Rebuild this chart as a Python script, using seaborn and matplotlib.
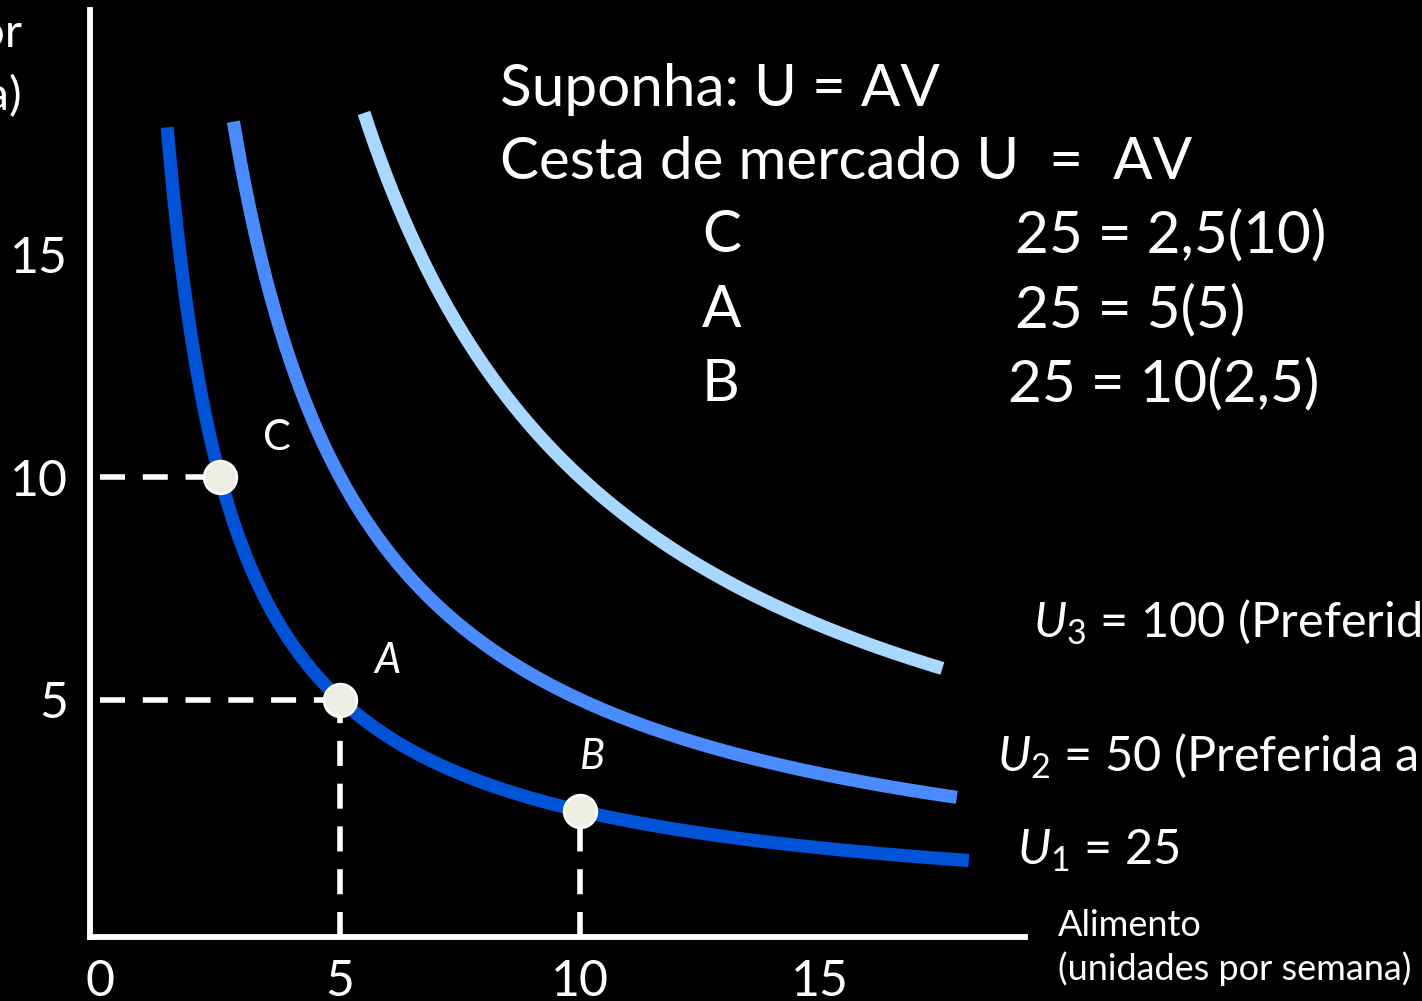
import numpy as np
import pandas as pd
import matplotlib
matplotlib.use("Agg")
import matplotlib.pyplot as plt
import seaborn as sns

# Indifference levels for U = A * V
levels = [25, 50, 100]
level_names = ["U1", "U2", "U3"]
curve_x_start = [1.40, 2.78, 5.50]
curve_x_end = [18.10, 17.85, 17.55]
curve_colors = ["#0052D6", "#4A8CFF", "#A8D8FF"]

# Market baskets lying on U1
basket_names = ["C", "A", "B"]
basket_food = [2.5, 5, 10]
basket_clothing = [10, 5, 2.5]

x_ticks = [0, 5, 10, 15]
y_ticks = [5, 10, 15]

# ---------------------------------------------------------------
W, H = 1422, 1001
sns.set_theme(style="white")
plt.rcParams["font.family"] = ["Lato", "DejaVu Sans"]
plt.rcParams["mathtext.fontset"] = "custom"
plt.rcParams["mathtext.rm"] = "Lato"
plt.rcParams["mathtext.it"] = "Lato:italic"

fig = plt.figure(figsize=(W / 100, H / 100), dpi=100, facecolor="black")

# pixel geometry of the data frame (origin and scale)
ox, oy, sx, sy = 100.0, 922.0, 48.0, 44.5
left_px, right_px, bottom_px, top_px = 90, 1025, 937, 10
ax = fig.add_axes([left_px / W, 1 - bottom_px / H,
                   (right_px - left_px) / W, (bottom_px - top_px) / H])
ax.set_facecolor("black")
ax.set_xlim((left_px - ox) / sx, (right_px - ox) / sx)
ax.set_ylim((oy - bottom_px) / sy, (oy - top_px) / sy)

for side in ["top", "right"]:
    ax.spines[side].set_visible(False)
for side in ["left", "bottom"]:
    ax.spines[side].set_color("white")
    ax.spines[side].set_linewidth(4.2)

# curves
frames = []
for name, u, x0, x1 in zip(level_names, levels, curve_x_start, curve_x_end):
    xs = np.linspace(x0, x1, 400)
    frames.append(pd.DataFrame({"alimento": xs, "vestuario": u / xs, "curva": name}))
curves = pd.concat(frames, ignore_index=True)

# dashed guides from the baskets to the axes
y_floor = ax.get_ylim()[0]
guide = dict(color="white", lw=4.0, linestyle=(0, (4.5, 3.2)), zorder=2)
ax.hlines([basket_clothing[0], basket_clothing[1]], 0, [basket_food[0], basket_food[1]], **guide)
ax.vlines([basket_food[1], basket_food[2]], y_floor, [basket_clothing[1], basket_clothing[2]], **guide)

sns.lineplot(data=curves, x="alimento", y="vestuario", hue="curva",
             palette=dict(zip(level_names, curve_colors)), linewidth=9.5,
             legend=False, sort=False, estimator=None, ax=ax, zorder=3)
for line in ax.get_lines():
    line.set_solid_capstyle("butt")

baskets = pd.DataFrame({"alimento": basket_food, "vestuario": basket_clothing,
                        "cesta": basket_names})
sns.scatterplot(data=baskets, x="alimento", y="vestuario", s=560,
                color="#EDEDE4", edgecolor="white", linewidth=1.8,
                legend=False, ax=ax, zorder=5)

# basket letters
label_offsets = {"C": (41, 28), "A": (34, 28), "B": (9, 39)}
label_styles = {"C": "normal", "A": "italic", "B": "italic"}
for name, xv, yv in zip(basket_names, basket_food, basket_clothing):
    ax.annotate(name, (xv, yv), xytext=label_offsets[name], textcoords="offset points",
                ha="center", va="center", color="white", fontsize=30,
                fontstyle=label_styles[name], zorder=6)

# ticks
ax.set_xticks(x_ticks)
ax.set_yticks(y_ticks)
ax.set_xticklabels([str(v) for v in x_ticks])
ax.set_yticklabels([str(v) for v in y_ticks])
ax.tick_params(axis="both", length=0, colors="white", labelsize=36)
ax.tick_params(axis="x", pad=16)
ax.tick_params(axis="y", pad=16)
ax.set_xlabel("")
ax.set_ylabel("")


def ftext(xp, yp, s, **kw):
    kw.setdefault("color", "white")
    kw.setdefault("va", "baseline")
    fig.text(xp / W, 1 - yp / H, s, **kw)


# formula block
block = 42
ftext(500, 106, "Suponha: U = AV", fontsize=block)
ftext(500, 179, "Cesta de mercado U  =  AV", fontsize=block)
ftext(702, 252, "C", fontsize=block)
ftext(1015, 252, "25 = 2,5(10)", fontsize=block)
ftext(702, 327, "A", fontsize=block)
ftext(1015, 327, "25 = 5(5)", fontsize=block)
ftext(702, 401, "B", fontsize=block)
ftext(1008, 401, "25 = 10(2,5)", fontsize=block)

# curve labels
lab = 35
ftext(1033, 636, r"$U_{\mathit{3}}$ = 100 (Preferida a $U_{\mathit{2}}$)", fontsize=lab)
ftext(997, 771, r"$U_{\mathit{2}}$ = 50 (Preferida a $U_{\mathit{1}}$)", fontsize=lab)
ftext(1017, 864, r"$U_{\mathit{1}}$ = 25", fontsize=lab)

# axis titles
ftext(1058, 936, "Alimento", fontsize=26)
ftext(1058, 980, "(unidades por semana)", fontsize=26)
ftext(22, 47, "Vestuário (unidades por", fontsize=34, ha="right")
ftext(22, 110, "semana)", fontsize=34, ha="right")

fig.savefig("out.png", dpi=100, facecolor="black")
